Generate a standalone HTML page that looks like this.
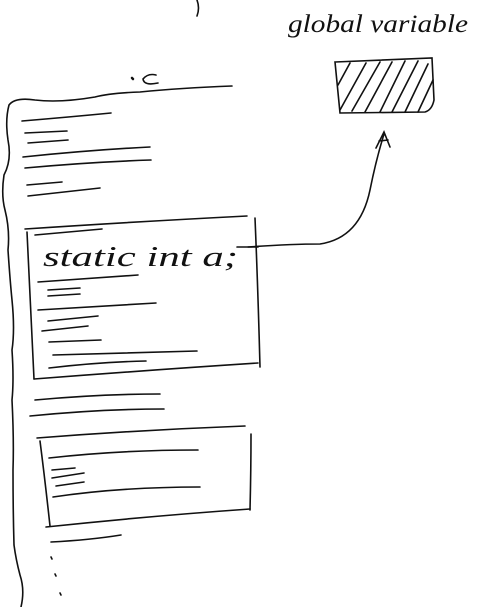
<!DOCTYPE html>
<html><head><style>
html,body{margin:0;padding:0;background:#fff;}
svg{display:block;}
</style></head><body>
<svg width="477" height="607" viewBox="0 0 477 607" xmlns="http://www.w3.org/2000/svg">
<g fill="none" stroke="#111" stroke-width="1.6" stroke-linecap="round">
<path d="M197 0 Q200 8 197 16"/>
<path d="M335 62 L432 58 L434 100 Q432 110 425 112 L340 113 Z"/>
<path d="M338 85 L350 63 M340 110 L366 63 M352 111 L380 62 M365 112 L392 62 M380 112 L405 61 M392 112 L418 61 M405 112 L428 64 M418 112 L433 80"/>
<path d="M248 247 Q290 244 320 244 Q360 238 370 190 Q376 160 384 134"/>
<path d="M376 148 L384 132 L390 147 M379 141 L388 140"/>
<path d="M156 75 Q148 73 143 79 Q144 86 158 83"/>
<path d="M132 78 L133 79" stroke-width="2.5"/>
<path d="M232 86 Q180 88 140 92 Q110 93 95 97 Q60 103 35 100 Q15 97 9 105 Q5 120 8 140 Q12 160 4 175 Q1 195 5 210 Q10 230 8 250 Q10 280 12 300 Q15 330 12 350 Q14 380 12 400 Q14 440 13 470 Q13 510 14 545 Q16 560 20 575 Q25 590 21 607"/>
<path d="M22 121 Q70 117 111 113"/>
<path d="M25 133 L67 131 M28 143 L68 140"/>
<path d="M23 157 Q90 150 150 147"/>
<path d="M25 168 Q90 162 151 160"/>
<path d="M27 185 L62 182 M28 196 L100 188"/>
<path d="M25 229 Q130 222 247 216"/>
<path d="M27 232 Q30 300 34 379"/>
<path d="M255 218 Q258 290 260 367"/>
<path d="M34 379 Q150 370 258 363"/>
<path d="M35 235 L102 229"/>
<path d="M237 247 L258 247"/>
<path d="M38 282 L138 275"/>
<path d="M48 290 L80 288 M48 296 L80 294"/>
<path d="M38 310 L156 303"/>
<path d="M48 321 L98 316 M42 331 L88 326 M49 342 L101 340"/>
<path d="M53 355 L197 351 M49 368 Q100 362 146 361"/>
<path d="M35 400 Q100 394 160 394"/>
<path d="M30 416 Q100 409 164 409"/>
<path d="M37 438 Q140 430 245 426"/>
<path d="M40 441 Q45 480 50 526"/>
<path d="M251 434 Q251 470 250 510"/>
<path d="M46 527 Q150 516 250 509"/>
<path d="M49 458 Q120 450 198 450"/>
<path d="M52 470 L75 468 M52 478 L84 473 M56 486 L84 482"/>
<path d="M53 497 Q120 487 200 487"/>
<path d="M51 542 Q90 540 121 535"/>
<path d="M51 557 L52 559 M55 574 L56 576 M60 593 L61 595"/>
</g>
<text x="288" y="32" font-family="Liberation Serif, serif" font-style="italic" font-size="25" fill="#111" textLength="180" lengthAdjust="spacingAndGlyphs">global variable</text>
<text x="43" y="266" font-family="Liberation Serif, serif" font-style="italic" font-size="29" fill="#111" textLength="195" lengthAdjust="spacingAndGlyphs">static int a;</text>
</svg>
</body></html>
